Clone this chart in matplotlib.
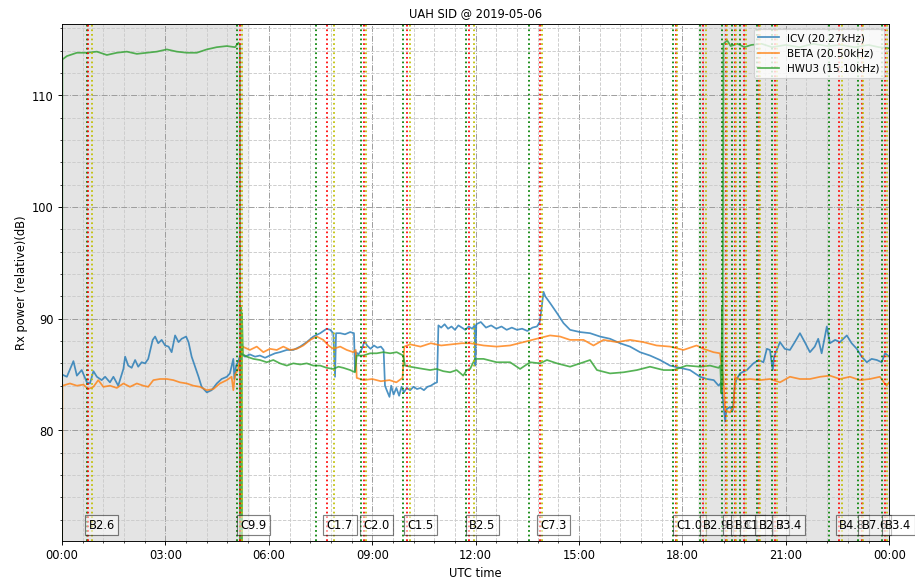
import matplotlib
matplotlib.use("Agg")
import matplotlib.pyplot as plt
from matplotlib.ticker import MultipleLocator, FuncFormatter

# ---- receiver data (hours UTC, relative power in dB) ----
icv_t = [0.0, 0.14, 0.33, 0.43, 0.57, 0.72, 0.81, 0.91, 1.01, 1.15, 1.25, 1.39, 1.49, 1.63,
         1.78, 1.83, 1.92, 2.02, 2.12, 2.21, 2.31, 2.41, 2.50, 2.63, 2.70, 2.79, 2.89, 2.99,
         3.09, 3.18, 3.28, 3.38, 3.47, 3.60, 3.67, 3.76, 3.86, 3.96, 4.05, 4.20, 4.34, 4.49,
         4.63, 4.78, 4.87, 4.97, 5.00, 5.05, 5.12, 5.18, 5.26, 5.31, 5.45, 5.60, 5.74, 5.89,
         6.03, 6.18, 6.32, 6.52, 6.71, 6.91, 7.10, 7.29, 7.49, 7.68, 7.78, 7.87, 7.92, 7.95,
         8.07, 8.21, 8.36, 8.47, 8.50, 8.53, 8.60, 8.70, 8.78, 8.85, 8.95, 9.05, 9.15, 9.25,
         9.33, 9.37, 9.42, 9.50, 9.55, 9.62, 9.70, 9.78, 9.85, 9.92, 10.0, 10.1, 10.2, 10.3,
         10.4, 10.5, 10.6, 10.7, 10.8, 10.88, 10.92, 11.0, 11.1, 11.2, 11.3, 11.4, 11.5, 11.6,
         11.7, 11.8, 11.9, 11.97, 11.99, 12.02, 12.15, 12.3, 12.45, 12.6, 12.75, 12.9, 13.05,
         13.2, 13.35, 13.5, 13.65, 13.78, 13.86, 13.9, 13.97, 14.02, 14.16, 14.36, 14.55,
         14.74, 15.03, 15.32, 15.61, 15.90, 16.19, 16.48, 16.77, 17.06, 17.35, 17.64, 17.93,
         18.22, 18.51, 18.71, 18.91, 19.05, 19.13, 19.2, 19.24, 19.28, 19.38, 19.46, 19.52,
         19.56, 19.67, 19.87, 20.06, 20.21, 20.35, 20.45, 20.54, 20.62, 20.66, 20.83, 20.97,
         21.12, 21.26, 21.41, 21.55, 21.70, 21.84, 21.94, 22.04, 22.19, 22.28, 22.43, 22.57,
         22.77, 22.91, 23.06, 23.20, 23.35, 23.49, 23.64, 23.78, 23.88, 24.0]
icv_v = [85.0, 84.8, 86.2, 84.9, 85.4, 84.3, 84.2, 85.3, 84.8, 84.5, 84.8, 84.3, 84.8, 84.0,
         85.5, 86.6, 85.8, 85.6, 86.3, 85.7, 86.1, 86.0, 86.4, 88.1, 88.4, 87.8, 88.1, 87.6,
         87.5, 87.0, 88.5, 87.9, 88.2, 88.4, 87.9, 86.6, 85.7, 84.8, 83.9, 83.4, 83.6, 84.2,
         84.6, 84.8, 85.1, 86.4, 84.6, 85.8, 86.2, 86.9, 86.7, 86.6, 86.8, 86.6, 86.7, 86.5,
         86.7, 86.9, 87.0, 87.2, 87.2, 87.5, 87.9, 88.4, 88.7, 89.1, 89.0, 88.7, 84.8, 88.7,
         88.7, 88.6, 88.8, 88.7, 85.3, 87.0, 86.8, 87.3, 88.0, 87.6, 87.3, 87.6, 87.4, 87.5,
         87.2, 84.0, 83.6, 83.0, 84.0, 83.2, 83.8, 83.1, 83.9, 83.4, 83.8, 83.6, 83.9, 83.7,
         83.8, 83.6, 83.9, 84.0, 84.2, 84.3, 89.4, 89.2, 89.5, 89.1, 89.3, 89.0, 89.4, 89.2,
         89.0, 89.3, 89.1, 89.4, 85.8, 89.5, 89.7, 89.2, 89.4, 89.1, 89.3, 89.0, 89.2,
         89.0, 89.1, 88.9, 89.2, 89.3, 89.7, 90.6, 92.4, 92.0, 91.4, 90.5, 89.6,
         89.0, 88.8, 88.7, 88.4, 88.2, 87.8, 87.5, 87.0, 86.7, 86.3, 85.8, 85.6,
         85.4, 84.8, 84.6, 84.5, 84.0, 84.3, 82.0, 80.8, 81.9, 82.1, 81.8, 84.0,
         84.5, 85.1, 85.4, 86.0, 86.3, 86.1, 87.3, 87.2, 85.4, 86.6, 87.9, 87.3,
         87.2, 87.9, 88.7, 87.9, 87.0, 87.5, 88.2, 86.9, 89.3, 87.8, 88.1, 87.9,
         88.5, 87.8, 87.3, 86.6, 86.1, 86.4, 86.3, 86.1, 86.9, 86.6]

beta_t = [0.0, 0.01, 0.23, 0.43, 0.62, 0.76, 0.91, 1.05, 1.20, 1.39, 1.59, 1.78, 1.97, 2.17,
          2.36, 2.50, 2.65, 2.84, 3.04, 3.23, 3.42, 3.62, 3.81, 4.00, 4.20, 4.39, 4.58, 4.78,
          4.92, 4.97, 5.02, 5.10, 5.16, 5.24, 5.45, 5.65, 5.84, 6.03, 6.23, 6.42, 6.62, 6.81,
          7.00, 7.20, 7.39, 7.58, 7.73, 7.87, 8.07, 8.26, 8.45, 8.52, 8.55, 8.75, 9.0, 9.25,
          9.5, 9.7, 9.88, 9.93, 10.1, 10.4, 10.7, 11.0, 11.3, 11.6, 11.84, 12.23, 12.61, 13.0,
          13.39, 13.77, 14.16, 14.45, 14.74, 15.13, 15.42, 15.71, 16.10, 16.48, 16.87, 17.25,
          17.64, 18.03, 18.41, 18.61, 18.90, 19.09, 19.19, 19.24, 19.38, 19.48, 19.53, 19.67,
          19.96, 20.25, 20.54, 20.83, 21.12, 21.41, 21.70, 22.0, 22.28, 22.57, 22.86, 23.15,
          23.44, 23.73, 23.92, 24.0]
beta_v = [65.0, 84.0, 84.2, 84.0, 84.1, 83.7, 83.9, 84.5, 83.9, 84.0, 83.8, 84.2, 83.9, 84.2,
          84.0, 83.9, 84.5, 84.6, 84.6, 84.5, 84.3, 84.2, 84.0, 83.9, 83.6, 83.7, 84.2, 84.5,
          84.8, 83.6, 85.0, 85.4, 86.3, 87.5, 87.2, 87.5, 87.0, 87.3, 87.2, 87.5, 87.2, 87.3,
          87.6, 88.1, 88.4, 88.1, 87.6, 87.3, 87.5, 87.2, 87.0, 87.2, 84.7, 84.5, 84.6, 84.4,
          84.5, 84.3, 84.7, 87.5, 87.7, 87.5, 87.8, 87.6, 87.7, 87.8, 87.8, 87.6, 87.5, 87.6,
          87.9, 88.2, 88.5, 88.4, 88.1, 88.1, 87.6, 88.1, 87.9, 88.1, 87.9, 87.6,
          87.5, 87.2, 87.6, 87.3, 87.0, 86.9, 84.5, 81.8, 81.6, 82.1, 84.8, 84.5,
          84.6, 84.5, 84.6, 84.3, 84.8, 84.6, 84.6, 84.8, 84.9, 84.6, 84.8, 84.5,
          84.6, 84.8, 84.0, 84.3]

hwu3_t = [0.0, 0.01, 0.14, 0.43, 0.72, 1.01, 1.30, 1.59, 1.88, 2.17, 2.46, 2.75, 3.04, 3.33,
          3.62, 3.91, 4.20, 4.49, 4.78, 5.02, 5.12, 5.16, 5.17, 5.19, 5.21, 5.22, 5.25, 5.36,
          5.55, 5.74, 5.94, 6.13, 6.32, 6.52, 6.71, 6.91, 7.10, 7.29, 7.49, 7.68, 7.87, 8.02,
          8.16, 8.36, 8.50, 8.55, 8.74, 8.94, 9.13, 9.32, 9.52, 9.71, 9.90, 9.95, 10.10, 10.29,
          10.48, 10.68, 10.87, 11.06, 11.26, 11.45, 11.64, 11.74, 11.84, 11.98, 12.23, 12.61,
          13.0, 13.29, 13.58, 13.87, 14.07, 14.36, 14.74, 15.13, 15.32, 15.52, 15.90, 16.29,
          16.68, 17.06, 17.45, 17.74, 18.12, 18.51, 18.80, 19.05, 19.10, 19.13, 19.15, 19.16,
          19.17, 19.19, 19.3, 19.4, 19.6, 19.8, 20.0, 20.3, 20.6, 21.0, 21.4, 21.8, 22.2,
          22.6, 23.0, 23.4, 23.7, 24.0]
hwu3_v = [65.0, 113.2, 113.5, 113.8, 113.8, 113.9, 113.6, 113.8, 113.9, 113.7, 113.8, 113.9,
          114.1, 113.9, 113.8, 113.8, 114.1, 114.3, 114.4, 114.3, 114.7, 114.5, 62.0, 91.0,
          63.0, 90.5, 86.8, 86.6, 86.4, 86.3, 86.1, 86.3, 86.0, 85.8, 86.0, 85.9, 86.0, 85.8,
          85.8, 85.6, 85.5, 85.7, 85.6, 85.4, 85.2, 86.7, 86.7, 86.9, 86.9, 87.0, 86.9, 87.0,
          86.7, 85.8, 85.7, 85.6, 85.5, 85.4, 85.5, 85.3, 85.2, 85.4, 84.9, 85.4, 85.5, 86.4,
          86.4, 86.1, 86.1, 85.5, 86.1, 86.0, 86.3, 86.0, 85.7, 86.1, 86.3, 85.4, 85.1, 85.2,
          85.4, 85.7, 85.4, 85.4, 85.8, 85.7, 85.8, 85.6, 85.8, 83.3, 91.0, 84.0, 90.8, 114.6,
          114.9, 114.4, 114.6, 114.3, 114.5, 114.6, 114.3, 114.5, 114.3, 114.6, 114.4, 114.5,
          114.3, 114.5, 114.3, 114.2]

series_names = ["ICV (20.27kHz)", "BETA (20.50kHz)", "HWU3 (15.10kHz)"]

# ---- X-ray flare events (start / peak / end, hours UTC) ----
flare_class = ["B2.6", "C9.9", "C1.7", "C2.0", "C1.5", "B2.5", "C7.3", "C1.0", "B2.9",
               "B1.8", "B3.1", "C1.1", "B2.7", "B3.4", "B4.8", "B7.6", "B3.4"]
flare_start = [0.717, 5.067, 7.367, 8.683, 9.900, 11.717, 13.550, 17.733, 18.500,
               19.150, 19.450, 19.683, 20.167, 20.600, 22.250, 23.100, 23.783]
flare_peak = [0.767, 5.167, 7.683, 8.750, 10.017, 11.817, 13.867, 17.820, 18.600,
              19.270, 19.520, 19.780, 20.220, 20.700, 22.550, 23.200, 23.880]
flare_end = [0.867, 5.217, 7.900, 8.833, 10.083, 11.950, 13.917, 17.850, 18.683,
             19.283, 19.567, 19.833, 20.250, 20.750, 22.633, 23.233, 23.950]

# ---- night periods (hours UTC) ----
night_spans = [(0.0, 5.45), (0.0, 5.25), (18.45, 24.0), (18.50, 24.0)]

fig = plt.figure(figsize=(11, 6.975), dpi=83.2)
ax = fig.add_axes([0.0678, 0.0672, 0.9038, 0.8914])

for a, b in night_spans:
    ax.axvspan(a, b, color="gray", alpha=0.11, lw=0)

ax.plot(icv_t, icv_v, color="#1f77b4", lw=1.5, alpha=0.8, label=series_names[0])
ax.plot(beta_t, beta_v, color="#ff7f0e", lw=1.5, alpha=0.8, label=series_names[1])
ax.plot(hwu3_t, hwu3_v, color="#2ca02c", lw=1.5, alpha=0.8, label=series_names[2])

for s, p, e, c in zip(flare_start, flare_peak, flare_end, flare_class):
    ax.axvline(s, color="green", ls=":", lw=1.5)
    ax.axvline(p, color="red", ls=":", lw=1.5)
    ax.axvline(e, color="y", ls=":", lw=1.5)
    ax.text(p, 71.5, c, ha="left", va="center", fontsize=10, zorder=5,
            bbox=dict(boxstyle="square", facecolor="white", edgecolor="black", alpha=0.5))

ax.set_xlim(0, 24)
ax.set_ylim(70.1, 116.4)
ax.xaxis.set_major_locator(MultipleLocator(3))
ax.xaxis.set_minor_locator(MultipleLocator(0.6))
ax.xaxis.set_major_formatter(FuncFormatter(lambda h, pos: f"{int(round(h)) % 24:02d}:00"))
ax.yaxis.set_major_locator(MultipleLocator(10))
ax.yaxis.set_minor_locator(MultipleLocator(2))

ax.grid(which="major", color="0.6", linestyle="-.", linewidth=0.8)
ax.grid(which="minor", color="0.8", linestyle="--", linewidth=0.8)

ax.set_xlabel("UTC time", fontsize=10)
ax.set_ylabel("Rx power (relative)(dB)", fontsize=10)
ax.set_title("UAH SID @ 2019-05-06", fontsize=10)
ax.legend(loc="upper right", fontsize=9)

fig.savefig("out.png", dpi=83.2)
